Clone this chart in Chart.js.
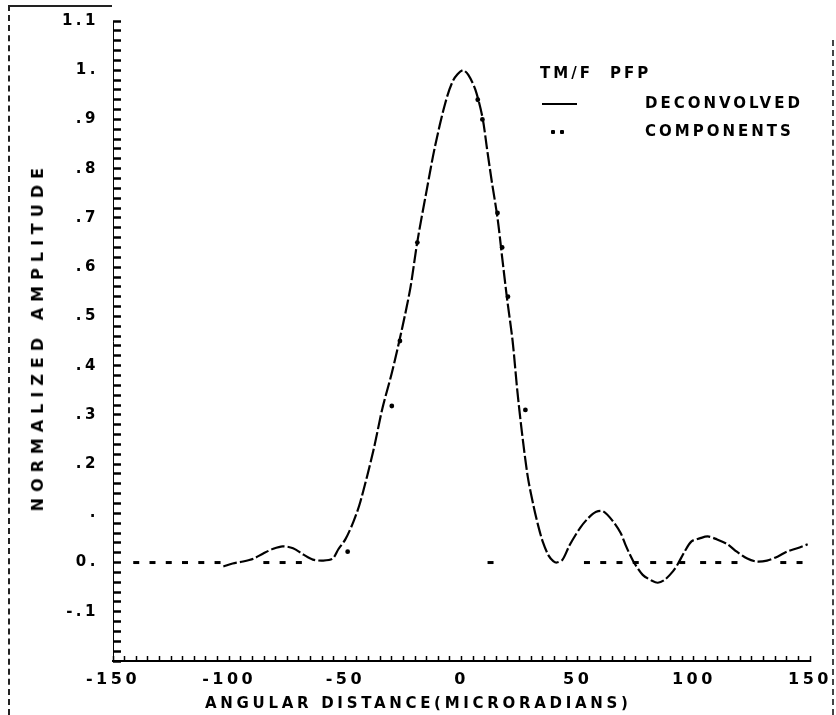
<!DOCTYPE html>
<html>
<head>
<meta charset="utf-8">
<script src="https://cdn.jsdelivr.net/npm/chart.js@4.4.1/dist/chart.umd.min.js"></script>
<style>
  html, body { margin: 0; padding: 0; background: #fff; }
  #wrap { position: relative; width: 836px; height: 715px; overflow: hidden; }
  #wrap canvas { position: absolute; left: 0; top: 0; }
  .frame-left { position: absolute; left: 8px; top: 5px; height: 710px; border-left: 2px dashed #222; }
  .frame-top { position: absolute; left: 8px; top: 5px; width: 104px; border-top: 2px solid #222; }
  .frame-right { position: absolute; left: 832px; top: 40px; height: 675px; border-left: 2px dashed #444; }
  .lg { position: absolute; font: bold 15px "DejaVu Sans", sans-serif; letter-spacing: 3px; color: #000; line-height: 16px; white-space: nowrap; }
  .xtitle { position: absolute; left: 205px; top: 694px; font: bold 15px "DejaVu Sans", sans-serif; letter-spacing: 3.7px; color: #000; line-height: 18px; white-space: nowrap; }
  .ytitle { position: absolute; left: 29px; top: 162px; font: bold 16px "DejaVu Sans", sans-serif; letter-spacing: 6px; color: #000; line-height: 18px; white-space: nowrap; writing-mode: vertical-rl; transform: rotate(180deg); }
  .lg-line { position: absolute; left: 542px; top: 103px; width: 35px; border-top: 2.5px solid #000; }
  .lg-dot { position: absolute; width: 4px; height: 4px; background: #000; border-radius: 1px; }
</style>
</head>
<body>
<div id="wrap">
  <canvas id="ampChart"></canvas>
  <div class="frame-left"></div>
  <div class="frame-top"></div>
  <div class="frame-right"></div>
  <div class="lg" style="left:540px; top:65px;">TM/F</div>
  <div class="lg" style="left:610px; top:65px;">PFP</div>
  <div class="lg-line"></div>
  <div class="lg" style="left:645px; top:95px;">DECONVOLVED</div>
  <div class="lg-dot" style="left:551px; top:130px;"></div>
  <div class="lg-dot" style="left:560px; top:130px;"></div>
  <div class="lg" style="left:645px; top:123px;">COMPONENTS</div>
  <div class="xtitle">ANGULAR DISTANCE(MICRORADIANS)</div>
  <div class="ytitle">NORMALIZED AMPLITUDE</div>
</div>
<script>
// deconvolved curve
const decoX = [-102.5, -98.5, -94, -89.5, -85.5, -81, -77, -72.5, -68, -64, -59.5, -55.5, -53, -50, -46.5, -43.5,
  -38, -34, -30, -25.5, -22, -19, -15, -11.5, -7, -3.5, 0.5, 3, 6, 9, 11, 13, 15.5, 17.5, 19.5, 22, 24, 26, 28.5,
  31, 33, 35, 37.5, 39.5, 41, 43.5, 46.5, 51, 54.5, 58, 61, 65, 68.5, 70.5, 72.5, 74.5, 78, 82, 84.5, 87.5,
  91, 93, 96, 99, 102.5, 106, 110, 114.5, 118.5, 123, 127, 131.5, 136, 140, 144.5, 149];
const decoY = [-0.008, -0.002, 0.002, 0.008, 0.018, 0.028, 0.033, 0.029, 0.016, 0.006, 0.004, 0.008, 0.027, 0.047, 0.083, 0.124,
  0.226, 0.314, 0.385, 0.477, 0.558, 0.652, 0.756, 0.843, 0.933, 0.98, 1.0, 0.99, 0.96, 0.905, 0.84, 0.775, 0.7, 0.62, 0.54, 0.45, 0.35, 0.265, 0.175,
  0.115, 0.075, 0.042, 0.014, 0.003, 0.0, 0.006, 0.035, 0.07, 0.09, 0.103, 0.104, 0.085, 0.06, 0.037, 0.016, -0.002, -0.025, -0.037, -0.041, -0.035,
  -0.018, -0.004, 0.022, 0.043, 0.049, 0.053, 0.047, 0.037, 0.022, 0.008, 0.002, 0.004, 0.012, 0.022, 0.029, 0.037];

// components (dots)
const compX = [-140, -133, -126, -119, -112, -105, -84, -77, -70, -49, -30, -26.5, -19, 7, 9, 12.5, 15.5, 17.5, 20, 27.5,
  54, 61, 68, 75, 82.5, 89.5, 95, 104, 110.5, 117.5, 138.5, 145.5];
const compY = [0, 0, 0, 0, 0, 0, 0, 0, 0, 0.022, 0.318, 0.45, 0.65, 0.94, 0.90, 0, 0.71, 0.64, 0.54, 0.31,
  0, 0, 0, 0, 0, 0, 0, 0, 0, 0, 0, 0];

// tick labels as printed on the original
const xTickValues = [-150, -100, -50, 0, 50, 100, 150];
const xTickLabels = ['-150', '-100', '-50', '0', '50', '100', '150'];
const yTickValues = [1.1, 1.0, 0.9, 0.8, 0.7, 0.6, 0.5, 0.4, 0.3, 0.2, 0.1, 0.0, -0.1];
const yTickLabels = ['1.1', '1.', '.9', '.8', '.7', '.6', '.5', '.4', '.3', '.2', '.', '0.', '-.1'];

const FONT = '"DejaVu Sans", sans-serif';

function labelFor(values, labels, v, mult) {
    const i = values.findIndex(t => Math.round(t * mult) === Math.round(v * mult));
    return i >= 0 ? labels[i] : '';
}

function noEdgePadding(s) {
    s.paddingLeft = 0; s.paddingRight = 0; s.paddingTop = 0; s.paddingBottom = 0;
}

// letter spacing for the plotter-like lettering
const spacingPlugin = {
    id: 'spacing',
    beforeLayout(chart) { chart.ctx.letterSpacing = '3.5px'; },
    beforeDraw(chart) { chart.ctx.letterSpacing = '3.5px'; }
};

const isZero = c => c.raw && c.raw.y === 0;

const ctx = document.getElementById('ampChart').getContext('2d');
const ampChart = new Chart(ctx, {
    type: 'scatter',
    data: {
        datasets: [
            {
                label: 'DECONVOLVED',
                data: decoX.map((x, i) => ({ x: x, y: decoY[i] })),
                showLine: true,
                borderColor: '#000',
                borderWidth: 2.2,
                borderDash: [14, 3],
                pointRadius: 0,
                tension: 0.3
            },
            {
                label: 'COMPONENTS',
                data: compX.map((x, i) => ({ x: x, y: compY[i] })),
                showLine: false,
                pointStyle: c => isZero(c) ? 'line' : 'circle',
                pointRadius: c => isZero(c) ? 3 : 2.4,
                pointBorderWidth: c => isZero(c) ? 3 : 0,
                backgroundColor: '#000',
                borderColor: '#000'
            }
        ]
    },
    options: {
        responsive: true,
        maintainAspectRatio: false,
        animation: false,
        layout: { padding: { left: 0, right: 26, top: 21, bottom: 0 } },
        plugins: {
            legend: { display: false },
            tooltip: { enabled: false }
        },
        scales: {
            x: {
                type: 'linear',
                min: -150,
                max: 150,
                afterFit: s => { s.height = 54; noEdgePadding(s); },
                border: { display: true, color: '#000', width: 2 },
                grid: { drawOnChartArea: false, drawTicks: true, tickLength: -5, tickColor: '#000', tickWidth: 1.5 },
                ticks: {
                    stepSize: 5,
                    autoSkip: false,
                    maxRotation: 0,
                    padding: 14,
                    color: '#000',
                    font: { family: FONT, size: 16, weight: 'bold' },
                    callback: v => labelFor(xTickValues, xTickLabels, v, 1)
                }
            },
            y: {
                type: 'linear',
                min: -0.2,
                max: 1.1,
                afterFit: s => { s.width = 113; noEdgePadding(s); },
                border: { display: true, color: '#000', width: 1 },
                grid: { drawOnChartArea: false, drawTicks: true, tickLength: -8, tickColor: '#000', tickWidth: 2.5 },
                ticks: {
                    stepSize: 0.02,
                    maxTicksLimit: 1000,
                    autoSkip: false,
                    padding: 22,
                    color: '#000',
                    font: { family: FONT, size: 15, weight: 'bold' },
                    callback: v => labelFor(yTickValues, yTickLabels, v, 100)
                }
            }
        }
    },
    plugins: [spacingPlugin]
});
</script>
</body>
</html>
